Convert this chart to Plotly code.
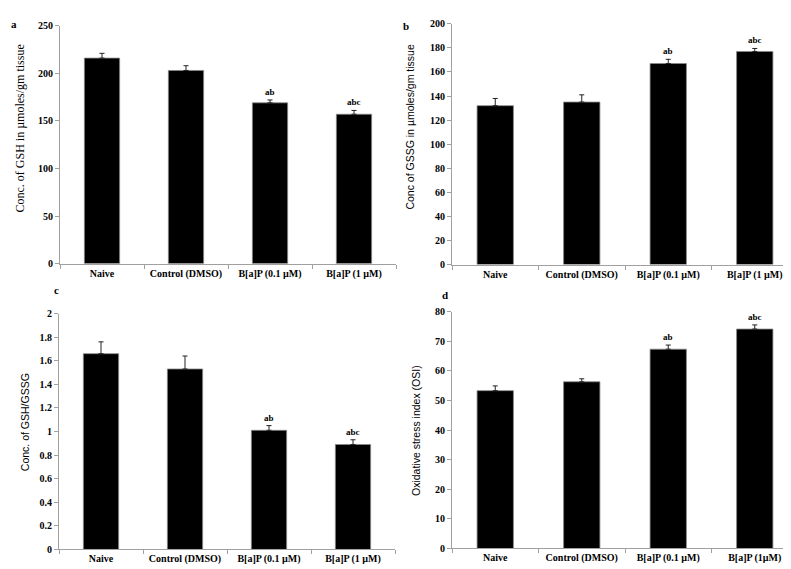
import plotly.graph_objects as go

categories = ["Naive", "Control (DMSO)", "B[a]P (0.1 \u00b5M)", "B[a]P (1 \u00b5M)"]
categories_d = ["Naive", "Control (DMSO)", "B[a]P (0.1 \u00b5M)", "B[a]P (1\u00b5M)"]

gsh = [216, 203, 169, 157]
gsh_err = [5, 5, 3, 4]
gssg = [132, 135, 167, 177]
gssg_err = [6, 6, 3.5, 2.5]
ratio = [1.66, 1.53, 1.01, 0.89]
ratio_err = [0.10, 0.11, 0.04, 0.04]
osi = [53.3, 56.3, 67.3, 74.1]
osi_err = [1.6, 1.0, 1.4, 1.4]

sig_labels = ["", "", "ab", "abc"]

panels = [
    dict(cats=categories, vals=gsh, err=gsh_err, xd=[52/791, 388/791], yd=[1-255/569, 1-12/569],
         rng=[0, 250], dtick=50, title="Conc. of GSH in \u00b5moles/gm tissue", tx=12, ty=117,
         tfont="Liberation Serif", tsize=12, letter="a", lx=6, ly=10),
    dict(cats=categories, vals=gssg, err=gssg_err, xd=[444/791, 790/791], yd=[1-256/569, 1-10/569],
         rng=[0, 200], dtick=20, title="Conc of GSSG in \u00b5moles/gm tissue", tx=402, ty=115,
         tfont="Liberation Sans", tsize=10.5, letter="b", lx=398, ly=12),
    dict(cats=categories, vals=ratio, err=ratio_err, xd=[51/791, 387/791], yd=[1-547/569, 1-306/569],
         rng=[0, 2], dtick=0.2, title="Conc. of GSH/GSSG", tx=17, ty=417,
         tfont="Liberation Sans", tsize=10.5, letter="c", lx=48, ly=282),
    dict(cats=categories_d, vals=osi, err=osi_err, xd=[444/791, 790/791], yd=[1-546/569, 1-304/569],
         rng=[0, 80], dtick=10, title="Oxidative stress index (OSI)", tx=408, ty=426,
         tfont="Liberation Sans", tsize=10.5, letter="d", lx=437, ly=287),
]

fig = go.Figure()
annotations = []
tickfont = dict(family="Liberation Serif", size=10, color="black", weight="bold")
for i, p in enumerate(panels, start=1):
    xa = "x" if i == 1 else f"x{i}"
    ya = "y" if i == 1 else f"y{i}"
    fig.add_trace(go.Bar(
        x=p["cats"], y=p["vals"], xaxis=xa, yaxis=ya,
        marker=dict(color="black", line=dict(color="#888888", width=0.8)),
        width=0.42,
        error_y=dict(type="data", array=p["err"], arrayminus=[0]*4, symmetric=False,
                     color="#222222", thickness=1, width=2.5),
        showlegend=False,
    ))
    xkey = "xaxis" if i == 1 else f"xaxis{i}"
    ykey = "yaxis" if i == 1 else f"yaxis{i}"
    fig.update_layout({
        xkey: dict(domain=p["xd"], anchor=ya, type="category", showline=True, linecolor="#a0a0a0",
                   linewidth=1, ticks="outside", tickson="boundaries", ticklen=4, tickcolor="#a0a0a0",
                   tickfont=tickfont, showgrid=False, zeroline=False, fixedrange=True),
        ykey: dict(domain=p["yd"], anchor=xa, range=p["rng"], dtick=p["dtick"], showline=True,
                   linecolor="#a0a0a0", linewidth=1, ticks="outside", ticklen=4, tickcolor="#a0a0a0",
                   tickfont=tickfont, showgrid=False, zeroline=False),
    })
    annotations.append(dict(text=p["title"], x=p["tx"]/791, y=1-p["ty"]/569, xref="paper", yref="paper",
                            xanchor="center", yanchor="middle",
                            textangle=-90, showarrow=False,
                            font=dict(family=p["tfont"], size=p["tsize"], color="black")))
    annotations.append(dict(text="<b>%s</b>" % p["letter"], x=p["lx"]/791, y=1-p["ly"]/569,
                            xref="paper", yref="paper", showarrow=False,
                            xanchor="center", yanchor="middle",
                            font=dict(family="Liberation Serif", size=11, color="black")))
    for c, v, e, s in zip(p["cats"], p["vals"], p["err"], sig_labels):
        if s:
            annotations.append(dict(text="<b>%s</b>" % s, x=c, y=v + e, xref=xa, yref=ya,
                                    yanchor="bottom", showarrow=False, yshift=1,
                                    font=dict(family="Liberation Serif", size=9, color="black")))

fig.update_layout(
    width=791, height=569, margin=dict(l=0, r=0, t=0, b=0),
    paper_bgcolor="white", plot_bgcolor="white",
    annotations=annotations, bargap=0.58,
)
fig.write_html("out.html")
